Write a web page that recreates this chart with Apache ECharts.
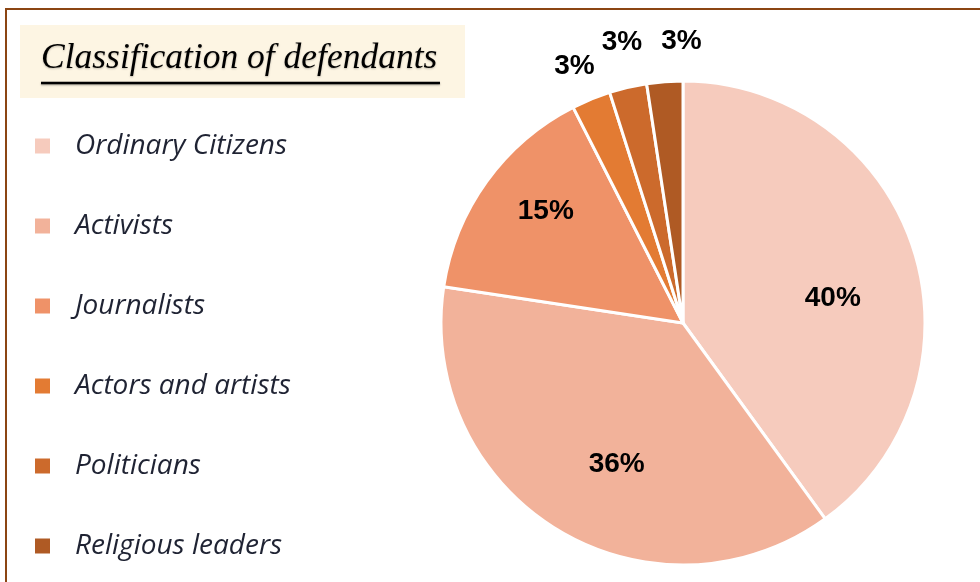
<!DOCTYPE html>
<html>
<head>
<meta charset="utf-8">
<script src="https://cdn.jsdelivr.net/npm/echarts@6/dist/echarts.min.js"></script>
<style>html,body{margin:0;padding:0;background:#fff}#c{width:980px;height:582px}</style>
</head>
<body>
<div id="c"></div>
<script>
const categories = ['Ordinary Citizens', 'Activists', 'Journalists', 'Actors and artists', 'Politicians', 'Religious leaders'];
const shares = [40, 37.4, 15.1, 2.6, 2.5, 2.4];
const shareLabels = ['40%', '36%', '15%', '3%', '3%', '3%'];
const colors = ['#F6CBBD', '#F2B29A', '#EF9268', '#E37B33', '#CC6A2C', '#AF5A24'];
const titleText = 'Classification of defendants';

const chart = echarts.init(document.getElementById('c'));
const center = [683, 323];
const R = 242;
const baseData = categories.map((n, i) => ({ name: n, value: shares[i] }));
const labelFont = { color: '#000', fontFamily: 'Liberation Sans, Arial, sans-serif', fontWeight: 'bold', fontSize: 28 };
// small label nudges (Excel-style manual label placement)
const nudge = { 0: [-10, 27], 1: [21, -2], 2: [-1, -13], 3: [0, 8], 4: [4, -2], 5: [20, 3] };

chart.setOption({
  animation: false,
  color: colors,
  graphic: [
    { type: 'rect', shape: { x: 6, y: 9, width: 1100, height: 700 }, style: { fill: 'none', stroke: '#8B4513', lineWidth: 2 }, z: 0 },
    { type: 'rect', shape: { x: 20, y: 25, width: 445, height: 73 }, style: { fill: '#FDF5E3' }, z: 0 },
    { type: 'line', shape: { x1: 41, y1: 83, x2: 440, y2: 83 }, style: { stroke: '#000', lineWidth: 2.5, shadowColor: 'rgba(0,0,0,0.35)', shadowBlur: 2, shadowOffsetY: 1 }, z: 5 }
  ],
  title: {
    text: titleText,
    left: 41, top: 41,
    padding: 0,
    textStyle: { fontFamily: 'Liberation Serif, serif', fontStyle: 'italic', fontWeight: 'normal', fontSize: 35.5, color: '#000',
      textShadowColor: 'rgba(0,0,0,0.25)', textShadowBlur: 2, textShadowOffsetY: 1 }
  },
  legend: {
    orient: 'vertical',
    left: 33, top: 131,
    padding: 0,
    itemWidth: 17, itemHeight: 17,
    itemGap: 50,
    icon: 'rect',
    data: categories,
    textStyle: { fontFamily: 'Open Sans, Noto Sans, sans-serif', fontStyle: 'italic', fontSize: 28, lineHeight: 30, color: '#1F2333', padding: [0, 0, 0, 19] }
  },
  series: [
    {
      type: 'pie', center: center, radius: [0, R], startAngle: 90, clockwise: true,
      data: baseData,
      itemStyle: { borderColor: '#fff', borderWidth: 3 },
      label: { show: false }, labelLine: { show: false }, silent: true
    },
    {
      type: 'pie', center: center, radius: [88, R], startAngle: 90, clockwise: true,
      data: baseData.map((d, i) => ({ ...d, label: { show: i < 3 } })),
      itemStyle: { color: 'transparent' }, silent: true, legendHoverLink: false,
      label: Object.assign({ position: 'inside', formatter: p => shareLabels[p.dataIndex] }, labelFont),
      labelLine: { show: false },
      labelLayout: p => ({ dx: nudge[p.dataIndex][0], dy: nudge[p.dataIndex][1] })
    },
    {
      type: 'pie', center: center, radius: [262, 304], startAngle: 90, clockwise: true,
      data: baseData.map((d, i) => ({ ...d, label: { show: i >= 3 } })),
      itemStyle: { color: 'transparent' }, silent: true, legendHoverLink: false,
      label: Object.assign({ position: 'inside', formatter: p => shareLabels[p.dataIndex] }, labelFont),
      labelLine: { show: false },
      labelLayout: p => ({ dx: nudge[p.dataIndex][0], dy: nudge[p.dataIndex][1] })
    }
  ]
});
</script>
</body>
</html>
